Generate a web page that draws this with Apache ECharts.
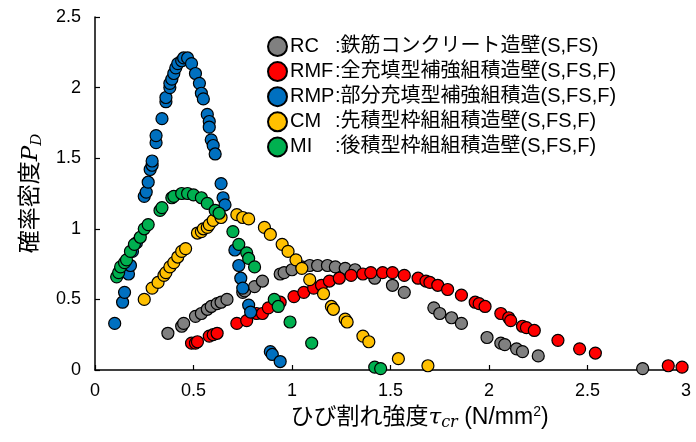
<!DOCTYPE html>
<html>
<head>
<meta charset="utf-8">
<script src="https://cdn.jsdelivr.net/npm/echarts@6/dist/echarts.min.js"></script>
<style>html,body{margin:0;padding:0;background:#fff}#c{width:696px;height:442px}</style>
</head>
<body>
<div id="c"></div>
<script>
// ---- data ----
const seriesNames = ['RC', 'RMF', 'RMP', 'CM', 'MI'];
const seriesDesc = [':鉄筋コンクリート造壁(S,FS)', ':全充填型補強組積造壁(S,FS,F)', ':部分充填型補強組積造(S,FS,F)', ':先積型枠組組積造壁(S,FS,F)', ':後積型枠組組積造壁(S,FS,F)'];
const xTicks = [0, 0.5, 1, 1.5, 2, 2.5, 3];
const yTicks = [0, 0.5, 1, 1.5, 2, 2.5];

const rcX = [0.37,0.44,0.45,0.51,0.54,0.57,0.59,0.62,0.64,0.67,0.75,0.76,0.81,0.85,0.94,0.96,1.00,1.05,1.09,1.13,1.18,1.22,1.27,1.32,1.42,1.51,1.57,1.72,1.75,1.81,1.86,1.99,2.06,2.08,2.14,2.17,2.25,2.78];
const rcY = [0.26,0.31,0.33,0.38,0.40,0.43,0.45,0.47,0.48,0.50,0.55,0.56,0.59,0.63,0.68,0.69,0.71,0.73,0.74,0.74,0.74,0.73,0.72,0.71,0.65,0.60,0.55,0.44,0.40,0.37,0.33,0.23,0.19,0.18,0.15,0.13,0.10,0.01];

const rmfX = [0.49,0.51,0.52,0.58,0.60,0.62,0.72,0.77,0.82,0.85,0.88,0.94,1.01,1.06,1.11,1.15,1.19,1.24,1.30,1.36,1.40,1.46,1.51,1.57,1.64,1.68,1.70,1.74,1.79,1.86,1.93,1.95,1.98,2.06,2.10,2.11,2.17,2.19,2.23,2.35,2.46,2.54,2.91,2.98];
const rmfY = [0.19,0.19,0.20,0.24,0.25,0.26,0.33,0.35,0.40,0.40,0.44,0.48,0.52,0.55,0.58,0.60,0.63,0.65,0.67,0.68,0.69,0.69,0.69,0.67,0.65,0.63,0.62,0.60,0.57,0.53,0.48,0.47,0.45,0.40,0.37,0.35,0.31,0.30,0.28,0.21,0.15,0.12,0.03,0.02];

const rmpX = [0.10,0.14,0.15,0.17,0.18,0.19,0.21,0.25,0.26,0.27,0.28,0.29,0.29,0.31,0.31,0.34,0.36,0.36,0.38,0.38,0.39,0.40,0.41,0.42,0.44,0.45,0.47,0.49,0.51,0.53,0.54,0.55,0.57,0.58,0.58,0.59,0.60,0.61,0.64,0.65,0.66,0.71,0.73,0.74,0.75,0.78,0.79,0.89,0.90,0.94];
const rmpY = [0.33,0.48,0.55,0.68,0.74,0.84,0.90,1.23,1.26,1.33,1.42,1.45,1.48,1.61,1.66,1.78,1.90,1.93,2.00,2.03,2.06,2.10,2.14,2.17,2.19,2.21,2.21,2.17,2.10,2.03,1.96,1.92,1.81,1.76,1.72,1.63,1.59,1.53,1.32,1.22,1.17,0.85,0.74,0.65,0.58,0.46,0.41,0.13,0.11,0.06];

const cmX = [0.25,0.29,0.32,0.35,0.36,0.38,0.40,0.42,0.44,0.46,0.52,0.54,0.55,0.57,0.58,0.60,0.64,0.72,0.75,0.78,0.86,0.89,0.95,0.98,1.02,1.05,1.09,1.16,1.20,1.21,1.27,1.28,1.36,1.39,1.54,1.69];
const cmY = [0.50,0.58,0.62,0.67,0.69,0.73,0.76,0.80,0.84,0.86,0.97,0.98,1.00,1.01,1.03,1.06,1.08,1.10,1.08,1.07,1.01,0.96,0.89,0.84,0.78,0.72,0.64,0.54,0.45,0.43,0.36,0.34,0.24,0.20,0.08,0.03];

const miX = [0.11,0.12,0.13,0.15,0.16,0.18,0.20,0.23,0.25,0.27,0.33,0.34,0.39,0.40,0.44,0.47,0.50,0.54,0.57,0.61,0.63,0.70,0.73,0.77,0.78,0.81,0.91,0.93,0.99,1.10,1.42,1.45];
const miY = [0.66,0.69,0.73,0.76,0.78,0.84,0.89,0.94,1.00,1.03,1.13,1.15,1.22,1.23,1.25,1.25,1.24,1.22,1.18,1.13,1.11,0.98,0.89,0.83,0.79,0.73,0.50,0.45,0.34,0.19,0.02,0.01];

const colors = ['#808080', '#FF0000', '#0070C0', '#FFC000', '#00B050'];
const xs = [rcX, rmfX, rmpX, cmX, miX];
const ys = [rcY, rmfY, rmpY, cmY, miY];

const latin = '"Liberation Sans", Arial, "Noto Sans CJK JP", sans-serif';
const chart = echarts.init(document.getElementById('c'), null, {renderer: 'canvas'});

const series = seriesNames.map((n, i) => ({
  name: n,
  type: 'scatter',
  symbol: 'circle',
  symbolSize: 12,
  itemStyle: {color: colors[i], borderColor: '#000', borderWidth: 1.2, opacity: 1},
  data: xs[i].map((x, k) => [x, ys[i][k]]),
  z: 2 + i
}));

chart.setOption({
  animation: false,
  grid: {left: 95, right: 10, top: 17, bottom: 72, containLabel: false},
  legend: {
    orient: 'vertical',
    left: 262, top: 31,
    itemWidth: 19, itemHeight: 19, itemGap: 4.1,
    icon: 'circle',
    data: seriesNames,
    formatter: function (name) {
      const i = seriesNames.indexOf(name);
      return '{a|' + name + '}{b|' + seriesDesc[i] + '}';
    },
    textStyle: {
      fontFamily: latin, fontSize: 20, color: '#000', padding: [0, 0, 0, -2],
      rich: {
        a: {fontFamily: latin, fontSize: 20, width: 45, color: '#000', lineHeight: 20},
        b: {fontFamily: latin, fontSize: 20, color: '#000', lineHeight: 20}
      }
    }
  },
  xAxis: {
    type: 'value', min: 0, max: 3, interval: 0.5,
    name: '{a|ひび割れ強度}{t|τ}{s|cr}{a| (N/mm}{p|2}{a|)}',
    nameLocation: 'middle', nameGap: 30,
    nameTextStyle: {
      padding: [0, 0, 0, 58],
      rich: {
        a: {fontFamily: latin, fontSize: 23, color: '#000', lineHeight: 26},
        t: {fontFamily: '"DejaVu Serif", serif', fontStyle: 'italic', fontSize: 23, color: '#000', lineHeight: 26},
        s: {fontFamily: '"DejaVu Serif", serif', fontStyle: 'italic', fontSize: 16, color: '#000', verticalAlign: 'bottom', lineHeight: 26},
        p: {fontFamily: latin, fontSize: 14, color: '#000', verticalAlign: 'top', lineHeight: 26}
      }
    },
    axisLine: {show: true, lineStyle: {color: '#000', width: 1.5}},
    axisTick: {show: true, inside: true, length: 5, lineStyle: {color: '#000', width: 1.2}},
    axisLabel: {fontFamily: latin, fontSize: 18, color: '#000', margin: 12,
      formatter: v => xTicks.includes(v) ? String(v) : ''},
    splitLine: {show: false}
  },
  yAxis: {
    type: 'value', min: 0, max: 2.5, interval: 0.5,
    name: '{a|確率密度}{p|P}{s|D}',
    nameLocation: 'middle', nameGap: 50, nameRotate: 90,
    nameTextStyle: {
      rich: {
        a: {fontFamily: latin, fontSize: 23, color: '#000', lineHeight: 28},
        p: {fontFamily: '"DejaVu Serif", serif', fontStyle: 'italic', fontSize: 23, color: '#000', lineHeight: 28},
        s: {fontFamily: '"DejaVu Serif", serif', fontStyle: 'italic', fontSize: 15, color: '#000', verticalAlign: 'bottom', lineHeight: 28}
      }
    },
    axisLine: {show: true, lineStyle: {color: '#000', width: 1.5}},
    axisTick: {show: true, inside: true, length: 5, lineStyle: {color: '#000', width: 1.2}},
    axisLabel: {fontFamily: latin, fontSize: 18, color: '#000', margin: 14,
      formatter: v => yTicks.includes(v) ? String(v) : ''},
    splitLine: {show: false}
  },
  series: series
});
</script>
</body>
</html>
